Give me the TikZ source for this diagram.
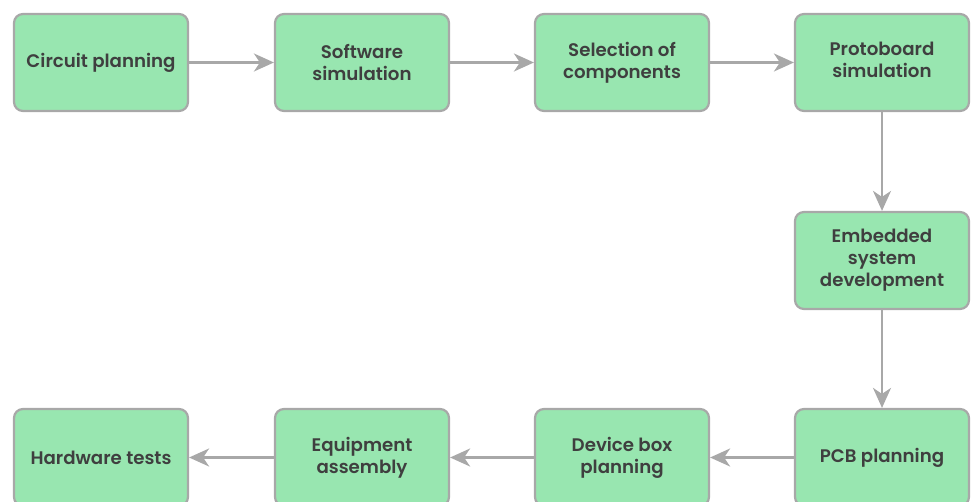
\documentclass[tikz,border=0pt]{standalone}
\usepackage{fontspec}
\setmainfont{Poppins}[UprightFont=* Medium, BoldFont=* SemiBold]
\usetikzlibrary{arrows.meta}
\definecolor{boxfill}{HTML}{98E6B0}
\definecolor{boxline}{HTML}{A8A8A8}
\definecolor{boxtext}{HTML}{3F3F3F}
\tikzset{
  stage/.style={draw=boxline, line width=2.2pt, fill=boxfill, rounded corners=9pt,
    minimum width=174pt, minimum height=97pt, inner sep=2pt, align=center,
    text=boxtext, font=\fontsize{18.2}{22}\selectfont\bfseries},
  flow/.style={draw=boxline, line width=2.2pt,
    -{Stealth[length=20pt, width=18pt, inset=6pt]}}
}
\begin{document}
\begin{tikzpicture}[x=1pt, y=-1pt]
  \useasboundingbox (0,0) rectangle (971,502);
  % top row
  \node[stage] (plan)   at (101,62.5) {Circuit planning};
  \node[stage] (soft)   at (362,62.5) {Software\\simulation};
  \node[stage] (select) at (622,62.5) {Selection of\\components};
  \node[stage] (proto)  at (882,62.5)
    {\raisebox{2.5pt}{\begin{tabular}{@{}c@{}}Protoboard\\simulation\end{tabular}}};
  % right column
  \node[stage] (embed)  at (882,260.5) {Embedded\\system\\development};
  % bottom row
  \node[stage] (pcb)    at (882,457.5) {PCB planning};
  \node[stage] (devbox) at (622,457.5) {Device box\\planning};
  \node[stage] (equip)  at (362,457.5) {Equipment\\assembly};
  \node[stage] (hwtest) at (101,457.5) {Hardware tests};
  % connectors
  \draw[flow] (plan) -- (soft);
  \draw[flow] (soft) -- (select);
  \draw[flow] (select) -- (proto);
  \draw[flow] (proto) -- (embed);
  \draw[flow] (embed) -- (pcb);
  \draw[flow] (pcb) -- (devbox);
  \draw[flow] (devbox) -- (equip);
  \draw[flow] (equip) -- (hwtest);
\end{tikzpicture}
\end{document}
